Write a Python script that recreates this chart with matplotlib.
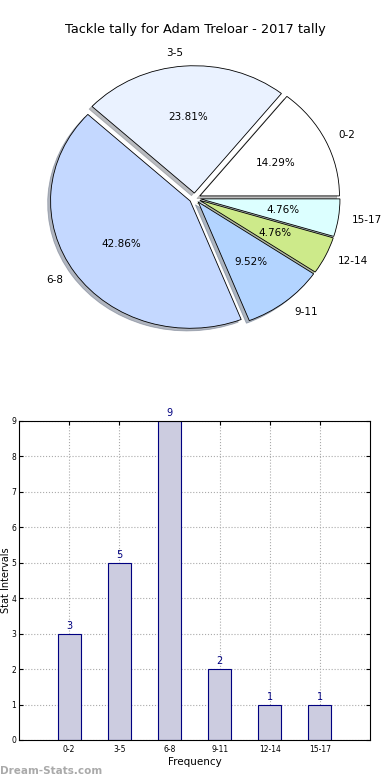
import matplotlib.pyplot as plt

# tackle tally data
labels = ["0-2", "3-5", "6-8", "9-11", "12-14", "15-17"]
counts = [3, 5, 9, 2, 1, 1]
pie_colors = ["#ffffff", "#eaf2ff", "#c4d8ff", "#b3d4ff", "#cdea8a", "#dcffff"]
explode = [0.04, 0.04, 0.04, 0.04, 0.04, 0.04]

fig = plt.figure(figsize=(3.9, 7.8), dpi=100)

# pie chart
ax1 = fig.add_axes([0.052, 0.542, 0.895, 0.408])
wedges, texts, autotexts = ax1.pie(
    counts, labels=labels, colors=pie_colors, explode=explode,
    autopct="%1.2f%%", shadow={"ox": -0.015, "oy": -0.015, "shade": 0.5},
    startangle=0, counterclock=True,
    wedgeprops={"edgecolor": "black", "linewidth": 0.6},
    textprops={"fontsize": 7.5},
)
ax1.set_aspect("auto")
ax1.set_xlim(-1.25, 1.25)
ax1.set_ylim(-1.25, 1.25)
ax1.axis("off")
fig.text(0.5, 1 - 30 / 780, "Tackle tally for Adam Treloar - 2017 tally",
         ha="center", va="center", fontsize=9.3)

# bar chart
ax2 = fig.add_axes([0.0487, 0.0513, 0.9, 0.409])
x = list(range(len(labels)))
bars = ax2.bar(x, counts, width=0.46, color="#ccccE0", edgecolor="navy", linewidth=0.8, zorder=2)
for xi, c in zip(x, counts):
    ax2.text(xi, c + 0.08, str(c), ha="center", va="bottom", color="navy", fontsize=7)
ax2.set_xlim(-1, 6)
ax2.set_ylim(0, 9)
ax2.set_xticks(x)
ax2.set_xticklabels(labels)
ax2.set_yticks(range(10))
ax2.tick_params(axis="both", labelsize=5.5, direction="in", length=3, top=True, right=True)
ax2.tick_params(axis="y", pad=2)
ax2.grid(True, linestyle=":", color="#aaaaaa", linewidth=0.8, zorder=0)
ax2.set_axisbelow(True)
ax2.set_xlabel("Frequency", fontsize=7.5, labelpad=2)
ax2.set_ylabel("Stat Intervals", fontsize=7)
ax2.yaxis.set_label_coords(-0.024, 0.5)

fig.text(0.0, 1 - 771 / 780, "Dream-Stats.com", ha="left", va="center",
         fontsize=7.5, color="#aaaaaa", fontweight="bold")

fig.savefig("out.png", dpi=100)
